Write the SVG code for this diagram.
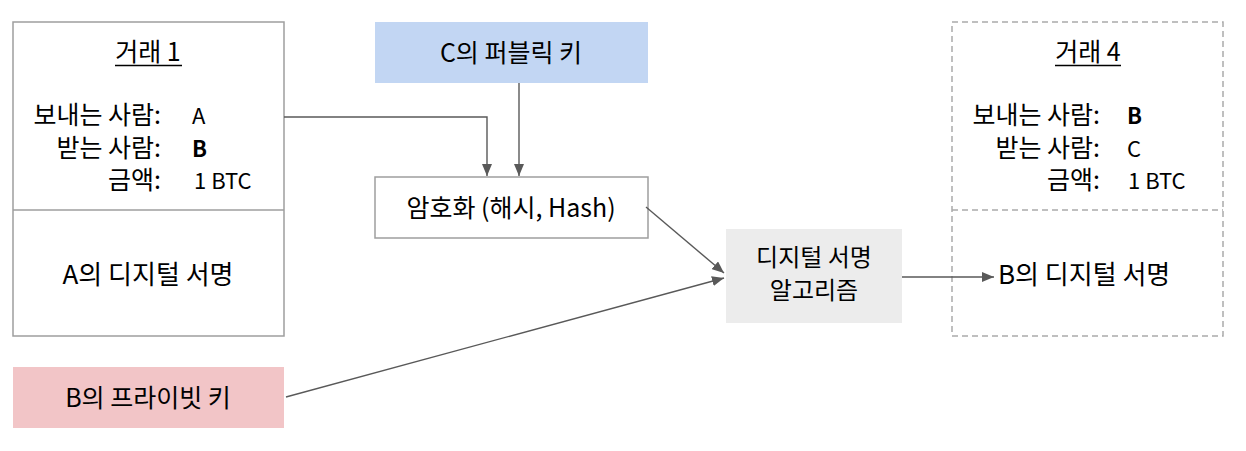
<svg xmlns="http://www.w3.org/2000/svg" width="1246" height="451" viewBox="0 0 1246 451">
<style>
text{font-family:"Noto Sans CJK KR","Liberation Sans",sans-serif;font-size:25px;fill:#000}
.c{text-anchor:middle}
.e{text-anchor:end}
.b{font-weight:bold}
.v{font-size:22px}
.sig{font-size:26px}
.alg{font-size:24px}
.box{fill:#fff;stroke:#9e9e9e;stroke-width:1.5}
.dash{fill:#fff;stroke:#ababab;stroke-width:1.5;stroke-dasharray:6 4}
.conn{fill:none;stroke:#595959;stroke-width:1.4}
.ul{stroke:#000;stroke-width:1.5}
</style>
<defs>
<marker id="ah" markerUnits="userSpaceOnUse" markerWidth="12" markerHeight="10" refX="12" refY="5" orient="auto">
<path d="M0,0 L12,5 L0,10 z" fill="#595959"/>
</marker>
</defs>
<rect width="1246" height="451" fill="#fff"/>

<g id="tx1">
<rect class="box" x="13" y="22" width="271" height="314"/>
<line class="box" x1="13" y1="210" x2="284" y2="210"/>
<text class="c" x="148" y="61">거래 1</text>
<line class="ul" x1="115" y1="65.5" x2="182" y2="65.5"/>
<text class="e" x="161" y="124">보내는 사람:</text>
<text class="v" x="192" y="124">A</text>
<text class="e" x="161" y="157">받는 사람:</text>
<text class="v b" x="192" y="157">B</text>
<text class="e" x="161" y="189">금액:</text>
<text class="v" x="194" y="189">1 BTC</text>
<text class="c sig" x="148" y="284">A의 디지털 서명</text>
</g>

<g id="pubkey">
<rect x="375" y="22" width="273" height="61" fill="#c2d6f3"/>
<text class="c" x="511" y="62">C의 퍼블릭 키</text>
</g>

<g id="hash">
<rect class="box" x="375" y="177" width="273" height="61"/>
<text class="c" x="511" y="217">암호화 (해시, Hash)</text>
</g>

<g id="algo">
<rect x="726" y="229" width="176" height="94" fill="#ececec"/>
<text class="c alg" x="814" y="266">디지털 서명</text>
<text class="c alg" x="814" y="299">알고리즘</text>
</g>

<g id="privkey">
<rect x="13" y="367" width="271" height="61" fill="#f2c5c7"/>
<text class="c" x="148" y="407">B의 프라이빗 키</text>
</g>

<g id="tx4">
<rect class="dash" x="952" y="22" width="271" height="314"/>
<line class="dash" x1="952" y1="210" x2="1223" y2="210"/>
<text class="c" x="1088" y="61">거래 4</text>
<line class="ul" x1="1055" y1="65.5" x2="1121" y2="65.5"/>
<text class="e" x="1100" y="124">보내는 사람:</text>
<text class="v b" x="1127" y="124">B</text>
<text class="e" x="1100" y="157">받는 사람:</text>
<text class="v" x="1127" y="157">C</text>
<text class="e" x="1100" y="189">금액:</text>
<text class="v" x="1128" y="189">1 BTC</text>
<text class="sig" x="998" y="284">B의 디지털 서명</text>
</g>

<g id="connectors">
<path class="conn" d="M284,117 H487 V176" marker-end="url(#ah)"/>
<path class="conn" d="M519,83 V176" marker-end="url(#ah)"/>
<path class="conn" d="M646,207 L724,273" marker-end="url(#ah)"/>
<path class="conn" d="M286,397 L724,278" marker-end="url(#ah)"/>
<path class="conn" d="M902,277 H994" marker-end="url(#ah)"/>
</g>
</svg>
